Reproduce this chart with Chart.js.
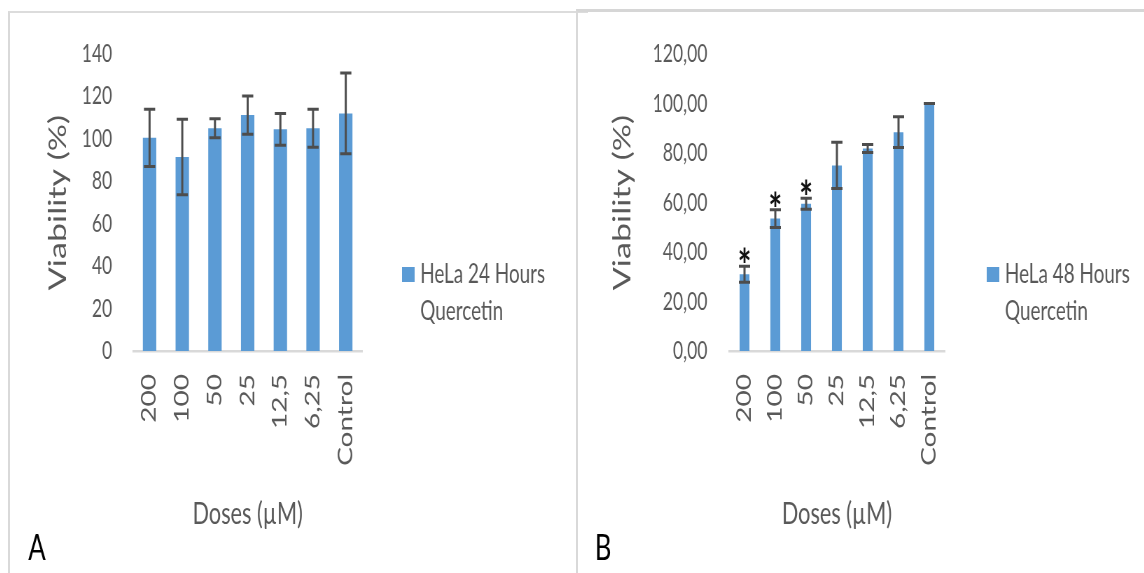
<!DOCTYPE html>
<html>
<head>
<meta charset="utf-8">
<script src="https://cdn.jsdelivr.net/npm/chart.js@4.4.1/dist/chart.umd.min.js"></script>
<style>
  html, body { margin: 0; padding: 0; background: #fff; width: 1144px; height: 573px; overflow: hidden; }
  .panel { position: absolute; box-sizing: border-box; }
  #panelA { left: 8px; top: 11px; width: 580px; height: 600px; border-left: 2px solid #d9d9d9; border-top: 2px solid #dcdcdc; }
  #panelB { left: 576px; top: 9px; width: 600px; height: 600px; border-left: 2px solid #d9d9d9; border-top: 3px solid #d6d6d6; }
  /* the charts are laid out wide and narrowed horizontally */
  .squeeze { position: absolute; top: 0; transform: scaleX(0.7); transform-origin: 0 0; }
</style>
</head>
<body>
<div class="panel" id="panelA"></div>
<div class="panel" id="panelB"></div>
<div class="squeeze" style="left:10px"><canvas id="chartA" width="807" height="573"></canvas></div>
<div class="squeeze" style="left:580px"><canvas id="chartB" width="806" height="573"></canvas></div>
<script>
// Doses (µM) on the x axis
const doses = ['200', '100', '50', '25', '12,5', '6,25', 'Control'];

// HeLa, 24 h quercetin: mean viability (%) and SD
const viability24 = [100.5, 91.4, 105, 111.2, 104.5, 105, 112];
const sd24 = [13.5, 17.8, 4.5, 9, 7.5, 9, 19];

// HeLa, 48 h quercetin: mean viability (%) and SD
const viability48 = [31, 53.5, 59.5, 75, 81.8, 88.4, 100];
const sd48 = [3.2, 3.6, 2.2, 9.3, 1.6, 6.2, 0];
const signif48 = ['*', '*', '*', '', '', '', ''];

// y tick labels
const ticks24 = ['0', '20', '40', '60', '80', '100', '120', '140'];
const ticks48 = ['0,00', '20,00', '40,00', '60,00', '80,00', '100,00', '120,00'];

// legend and panel text
const legend24 = ['HeLa 24 Hours', 'Quercetin'];
const legend48 = ['HeLa 48 Hours', 'Quercetin'];
const panelLetters = ['A', 'B'];

const BAR = '#5b9bd5';
const GREY = '#595959';
const FONT = 'Lato, "Open Sans", sans-serif';

// error bars, significance marks, legend and panel letter
const extras = {
  id: 'extras',
  afterDatasetsDraw(chart, args, opts) {
    const ctx = chart.ctx;
    const meta = chart.getDatasetMeta(0);
    const y = chart.scales.y;
    const vals = chart.data.datasets[0].data;
    ctx.save();
    ctx.strokeStyle = '#4d4d4d';
    ctx.lineWidth = 3;
    opts.errors.forEach((e, i) => {
      const x = meta.data[i].x;
      const yt = y.getPixelForValue(vals[i] + e);
      const yb = y.getPixelForValue(vals[i] - e);
      ctx.beginPath();
      ctx.moveTo(x, yt); ctx.lineTo(x, yb);
      ctx.moveTo(x - 8, yt); ctx.lineTo(x + 8, yt);
      ctx.moveTo(x - 8, yb); ctx.lineTo(x + 8, yb);
      ctx.stroke();
      const mark = opts.marks ? opts.marks[i] : '';
      if (mark) {
        ctx.font = 'bold 46px ' + FONT;
        ctx.fillStyle = '#111';
        ctx.textAlign = 'center';
        ctx.textBaseline = 'alphabetic';
        const m = ctx.measureText(mark);
        const cy = yt - 11;
        const base = cy + (m.actualBoundingBoxAscent - m.actualBoundingBoxDescent) / 2;
        ctx.fillText(mark, x, base);
      }
    });
    ctx.restore();
  },
  afterDraw(chart, args, opts) {
    const ctx = chart.ctx;
    ctx.save();
    ctx.fillStyle = BAR;
    ctx.fillRect(opts.legendX, 267, 18, 15);
    ctx.fillStyle = GREY;
    ctx.font = '27px ' + FONT;
    ctx.textAlign = 'left';
    ctx.textBaseline = 'alphabetic';
    opts.legend.forEach((t, i) => ctx.fillText(t, opts.legendX + 26, 283 + i * 37));
    ctx.fillStyle = '#000';
    ctx.font = '37px ' + FONT;
    ctx.fillText(opts.letter, opts.letterX, 560);
    ctx.restore();
  }
};

function makeChart(id, values, errors, marks, max, tickLabels, barPct, layout) {
  return new Chart(document.getElementById(id), {
    type: 'bar',
    data: {
      labels: doses,
      datasets: [{
        data: values,
        backgroundColor: BAR,
        borderWidth: 0,
        barPercentage: barPct,
        categoryPercentage: 1
      }]
    },
    options: {
      responsive: false,
      animation: false,
      devicePixelRatio: 1,
      layout: { padding: { left: 0, top: 54, right: layout.right, bottom: 0 } },
      plugins: {
        legend: { display: false },
        tooltip: { enabled: false },
        extras: {
          errors: errors,
          marks: marks,
          legend: layout.legend,
          legendX: layout.legendX,
          letter: layout.letter,
          letterX: layout.letterX
        }
      },
      scales: {
        x: {
          grid: { display: false, drawTicks: false },
          border: { display: true, color: '#d9d9d9', width: 2.5 },
          ticks: {
            color: GREY,
            font: { family: FONT, size: 28 },
            minRotation: 90,
            maxRotation: 90,
            autoSkip: false,
            padding: 23
          },
          title: {
            display: true,
            text: 'Doses (µM)',
            color: GREY,
            font: { family: FONT, size: 31 },
            padding: { top: 0, bottom: 40 }
          },
          afterFit(scale) { scale.height = 222; }
        },
        y: {
          min: 0,
          max: max,
          grid: { display: false, drawTicks: false },
          border: { display: false },
          ticks: {
            stepSize: 20,
            color: GREY,
            font: { family: FONT, size: 25 },
            padding: layout.tickPad,
            callback: (v, i) => tickLabels[i]
          },
          title: {
            display: true,
            text: 'Viability (%)',
            color: GREY,
            font: { family: FONT, size: 34 },
            padding: { top: layout.titlePad, bottom: 0 }
          },
          afterFit(scale) { scale.width = layout.yWidth; }
        }
      }
    },
    plugins: [extras]
  });
}

makeChart('chartA', viability24, sd24, null, 140, ticks24, 0.41, {
  right: 304, yWidth: 176, tickPad: 30, titlePad: 48.6,
  legend: legend24, legendX: 560, letter: panelLetters[0], letterX: 26
});

makeChart('chartB', viability48, sd48, signif48, 120, ticks48, 0.32, {
  right: 285, yWidth: 213, tickPad: 31, titlePad: 40.6,
  legend: legend48, legendX: 581, letter: panelLetters[1], letterX: 21
});
</script>
</body>
</html>
